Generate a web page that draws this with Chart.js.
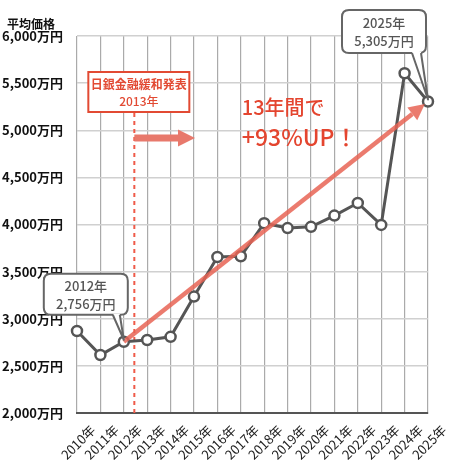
<!DOCTYPE html>
<html>
<head>
<meta charset="utf-8">
<script src="https://cdn.jsdelivr.net/npm/chart.js@4"></script>
<style>
  html, body { margin: 0; padding: 0; background: #fff; }
  #wrap { width: 450px; height: 465px; position: relative; }
</style>
</head>
<body>
<div id="wrap"><canvas id="price-chart"></canvas></div>
<script>
const years = ['2010年','2011年','2012年','2013年','2014年','2015年','2016年','2017年','2018年','2019年','2020年','2021年','2022年','2023年','2024年','2025年'];
const prices = [2870,2615,2756,2775,2808,3235,3655,3663,4014,3962,3975,4095,4228,3996,5605,5305];
const yTicks = [2000,2500,3000,3500,4000,4500,5000,5500,6000];

const startIdx = 2;   // 2012
const endIdx = 15;    // 2025
const eventPos = 2.45; // 日銀金融緩和発表 (2013年)

Chart.defaults.font.family = "'Noto Sans CJK JP', 'Noto Sans', sans-serif";

function fmt(v) {
    return v.toLocaleString('en-US') + '万円';
}

function roundRect(ctx, x, y, w, h, r) {
    ctx.beginPath();
    ctx.moveTo(x + r, y);
    ctx.lineTo(x + w - r, y);
    ctx.quadraticCurveTo(x + w, y, x + w, y + r);
    ctx.lineTo(x + w, y + h - r);
    ctx.quadraticCurveTo(x + w, y + h, x + w - r, y + h);
    ctx.lineTo(x + r, y + h);
    ctx.quadraticCurveTo(x, y + h, x, y + h - r);
    ctx.lineTo(x, y + r);
    ctx.quadraticCurveTo(x, y, x + r, y);
    ctx.closePath();
}

// callout box with a tail pointing at a data point
function callout(ctx, bx, by, bw, bh, tailL, tailR, px, py, lines) {
    ctx.save();
    ctx.fillStyle = '#fff';
    ctx.strokeStyle = '#666';
    ctx.lineWidth = 2;
    ctx.lineJoin = 'round';
    roundRect(ctx, bx, by, bw, bh, 7);
    ctx.fill();
    ctx.stroke();
    // tail
    ctx.beginPath();
    ctx.moveTo(tailL, by + bh - 1);
    ctx.lineTo(px, py);
    ctx.lineTo(tailR, by + bh - 1);
    ctx.fillStyle = '#fff';
    ctx.fill();
    ctx.beginPath();
    ctx.moveTo(tailL, by + bh);
    ctx.lineTo(px, py);
    ctx.lineTo(tailR, by + bh);
    ctx.stroke();
    ctx.fillStyle = '#555';
    ctx.font = "500 13px 'Noto Sans CJK JP'";
    ctx.textAlign = 'center';
    ctx.textBaseline = 'middle';
    ctx.fillText(lines[0], bx + bw / 2, by + bh * 0.3);
    ctx.fillText(lines[1], bx + bw / 2, by + bh * 0.73);
    ctx.restore();
}

const annotations = {
    id: 'annotations',
    beforeDatasetsDraw(chart) {
        const ctx = chart.ctx;
        const xs = chart.scales.x, ys = chart.scales.y;
        const area = chart.chartArea;
        const ex = xs.getPixelForValue(eventPos);
        ctx.save();
        // dashed event line
        ctx.strokeStyle = '#ef5a48';
        ctx.lineWidth = 2;
        ctx.setLineDash([4, 4]);
        ctx.beginPath();
        ctx.moveTo(ex, area.top + 77);
        ctx.lineTo(ex, area.bottom);
        ctx.stroke();
        ctx.setLineDash([]);
        // small arrow
        const ay = area.top + 102;
        const ax2 = xs.getPixelForValue(5) + 1;
        ctx.fillStyle = '#e8796c';
        ctx.fillRect(ex, ay - 3.5, ax2 - 17 - ex, 7);
        ctx.beginPath();
        ctx.moveTo(ax2 - 17, ay - 8.5);
        ctx.lineTo(ax2, ay);
        ctx.lineTo(ax2 - 17, ay + 8.5);
        ctx.closePath();
        ctx.fill();
        // event box
        ctx.fillStyle = '#fff';
        ctx.strokeStyle = '#e24a33';
        ctx.lineWidth = 2;
        ctx.fillRect(ex - 46, area.top + 36, 101, 40);
        ctx.strokeRect(ex - 46, area.top + 36, 101, 40);
        ctx.fillStyle = '#e24a33';
        ctx.font = "bold 12px 'Noto Sans CJK JP'";
        ctx.textAlign = 'center';
        ctx.textBaseline = 'middle';
        ctx.fillText('日銀金融緩和発表', ex + 4.5, area.top + 48);
        ctx.font = "500 12px 'Noto Sans CJK JP'";
        ctx.fillText('2013年', ex + 4.5, area.top + 65);
        ctx.restore();
    },
    afterDatasetsDraw(chart) {
        const ctx = chart.ctx;
        const xs = chart.scales.x, ys = chart.scales.y;
        const area = chart.chartArea;
        const x1 = xs.getPixelForValue(startIdx), y1 = ys.getPixelForValue(prices[startIdx]);
        const x2 = xs.getPixelForValue(endIdx), y2 = ys.getPixelForValue(prices[endIdx]);
        ctx.save();
        // trend arrow
        const ang = Math.atan2(y2 - y1, x2 - x1);
        const tipX = x2 - 4 * Math.cos(ang), tipY = y2 - 4 * Math.sin(ang);
        const baseX = tipX - 16 * Math.cos(ang), baseY = tipY - 16 * Math.sin(ang);
        ctx.strokeStyle = 'rgba(232,100,85,0.85)';
        ctx.lineWidth = 4.5;
        ctx.beginPath();
        ctx.moveTo(x1, y1);
        ctx.lineTo(baseX, baseY);
        ctx.stroke();
        ctx.fillStyle = 'rgba(232,100,85,0.85)';
        ctx.beginPath();
        ctx.moveTo(tipX, tipY);
        ctx.lineTo(baseX + 8 * Math.sin(ang), baseY - 8 * Math.cos(ang));
        ctx.lineTo(baseX - 8 * Math.sin(ang), baseY + 8 * Math.cos(ang));
        ctx.closePath();
        ctx.fill();
        // headline
        ctx.fillStyle = '#e4452f';
        ctx.textAlign = 'left';
        ctx.textBaseline = 'middle';
        const tx = xs.getPixelForValue(7) + 1;
        ctx.font = "500 20px 'Noto Sans CJK JP'";
        ctx.fillText('13年間で', tx, area.top + 71);
        ctx.font = "500 23px 'Noto Sans CJK JP'";
        ctx.fillText('+93%UP！', tx, area.top + 101);
        // title
        ctx.fillStyle = '#111';
        ctx.font = "bold 12px 'Noto Sans CJK JP'";
        ctx.fillText('平均価格', 7, 24);
        ctx.restore();
        // callouts
        callout(ctx, x1 - 80, y1 - 68, 84, 41, x1 - 11, x1 - 4, x1, y1 - 2,
            [years[startIdx], fmt(prices[startIdx])]);
        callout(ctx, x2 - 86, 10, 84, 43, x2 - 16, x2 - 7, x2, y2 - 2,
            [years[endIdx], fmt(prices[endIdx])]);
    }
};

new Chart(document.getElementById('price-chart').getContext('2d'), {
    type: 'line',
    data: {
        labels: years,
        datasets: [{
            label: '平均価格',
            data: prices,
            borderColor: '#555',
            borderWidth: 3,
            pointRadius: 5,
            pointBorderWidth: 2.5,
            pointBackgroundColor: '#fff',
            pointBorderColor: '#555',
            tension: 0
        }]
    },
    options: {
        responsive: true,
        maintainAspectRatio: false,
        animation: false,
        layout: { padding: { top: 36, right: 22, left: 0, bottom: 0 } },
        plugins: {
            legend: { display: false },
            tooltip: { enabled: false }
        },
        scales: {
            x: {
                grid: { color: '#aaa', lineWidth: 1.2, drawTicks: false },
                border: { color: '#555', width: 2 },
                ticks: {
                    color: '#222',
                    font: { size: 13 },
                    minRotation: 45,
                    maxRotation: 45,
                    autoSkip: false,
                    padding: 9,
                    labelOffset: 16
                },
                afterFit(scale) { scale.height = 52; }
            },
            y: {
                min: 2000,
                max: 6000,
                grid: { color: '#d0d0d0', lineWidth: 1.5, drawTicks: false },
                border: { display: false },
                afterBuildTicks(scale) { scale.ticks = yTicks.map(v => ({ value: v })); },
                ticks: {
                    color: '#111',
                    font: { size: 13, weight: 'bold' },
                    padding: 14,
                    callback: v => fmt(v)
                },
                afterFit(scale) { scale.width = 77; }
            }
        }
    },
    plugins: [annotations]
});
</script>
</body>
</html>
